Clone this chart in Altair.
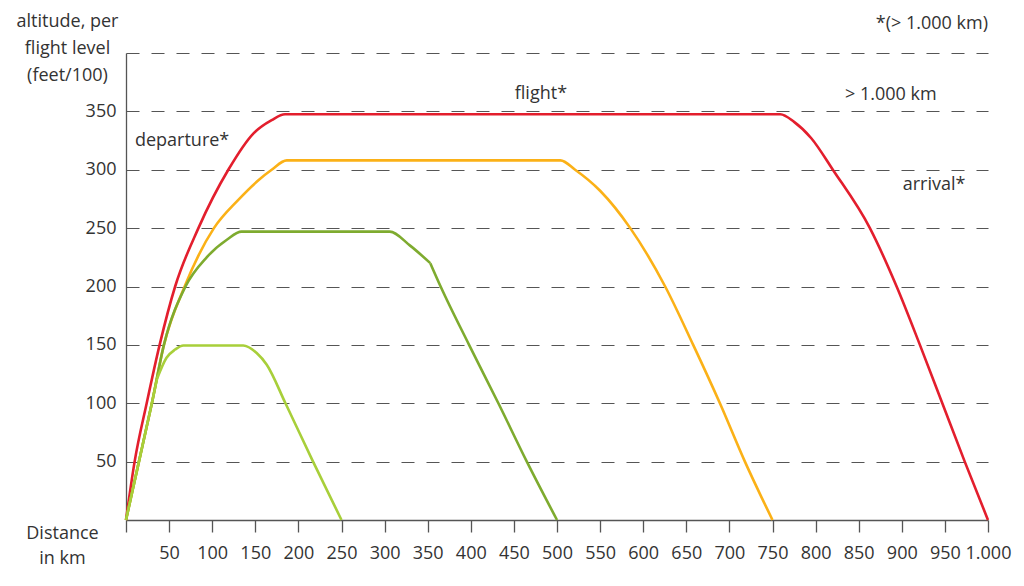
import altair as alt
import pandas as pd

# ---- data ----
red_x = [0, 10, 24, 39, 57, 84, 118.7, 147.7, 169, 184.5, 759, 775, 795, 820, 863, 894, 921, 947, 973, 1000]
red_y = [0, 50, 100, 150, 200, 250, 300, 331, 342.5, 347.5, 347.5, 341, 327, 300, 250, 200, 150, 100, 50, 0]
red_kinks = []

yel_x = [0, 15, 30, 44, 68, 102, 130, 153.6, 169, 186.5, 504, 521, 550, 585, 625.5, 658, 689, 718, 750]
yel_y = [0, 50, 100, 150, 200, 250, 274, 291, 300, 308, 308, 300, 282, 250, 200, 150, 100, 50, 0]
yel_kinks = []

dg_x = [0, 15, 30, 44, 69, 93.6, 117, 134, 306, 329.6, 353, 365, 398, 432, 465, 500]
dg_y = [0, 50, 100, 150, 200, 225, 240, 247, 247, 235, 220, 200, 150, 100, 50, 0]
dg_kinks = [353]

lg_x = [0, 15, 30, 36, 47, 57, 66.5, 136, 151.6, 163.3, 185, 217, 250]
lg_y = [0, 50, 100, 121, 139, 146, 149.5, 149.5, 143, 133, 100, 50, 0]
lg_kinks = [36]

series = [
    ("1000", red_x, red_y, red_kinks, "#e31e2d"),
    ("750", yel_x, yel_y, yel_kinks, "#fbb117"),
    ("500", dg_x, dg_y, dg_kinks, "#7eab2f"),
    ("250", lg_x, lg_y, lg_kinks, "#a8cf3a"),
]

x_ticks = list(range(0, 1001, 50))
y_ticks = list(range(50, 401, 50))

note_left_text = ["departure*", "flight*", "> 1.000 km", "arrival*"]
note_left_x = [10.4, 451, 834, 901]
note_left_y = [325, 365, 364, 287]

note_right_text = ["*(> 1.000 km)"]
note_right_x = [1000]
note_right_y = [425]

FONT = "Open Sans"
TXT = "#333333"
AX = "#555555"

x_enc = alt.X(
    "x:Q",
    scale=alt.Scale(domain=[0, 1000], nice=False, zero=True),
    axis=alt.Axis(
        values=x_ticks,
        labelExpr="datum.value == 0 ? '' : (datum.value == 1000 ? '1.000' : datum.label)",
        labelOverlap=False, labelFlush=False, labelBound=False,
        grid=False, tickSize=12, tickColor=AX, tickWidth=1.3,
        domainColor=AX, domainWidth=1.3,
        labelFont=FONT, labelFontSize=18, labelColor=TXT, labelPadding=12,
        title=["Distance", "in km"], titleFont=FONT, titleFontSize=18,
        titleFontWeight="normal", titleColor=TXT, titleAlign="center",
        titleBaseline="top", titleX=-64, titleY=4, titleLineHeight=25,
    ),
)

y_enc = alt.Y(
    "y:Q",
    scale=alt.Scale(domain=[0, 400], nice=False),
    axis=alt.Axis(
        values=y_ticks,
        labelExpr="datum.value == 400 ? '' : datum.label",
        labelOverlap=False, labelFlush=False,
        grid=True, gridDash=[13, 12], gridColor=AX, gridWidth=1.2,
        ticks=False, tickSize=0,
        domainColor=AX, domainWidth=1.3,
        labelFont=FONT, labelFontSize=18, labelColor=TXT, labelPadding=10,
        title=["altitude, per", "flight level", "(feet/100)"],
        titleFont=FONT, titleFontSize=18, titleFontWeight="normal",
        titleColor=TXT, titleAngle=0, titleAlign="center", titleBaseline="top",
        titleX=-59, titleY=-41, titleLineHeight=27,
    ),
)


def segments(xs, ys, kinks):
    """Split a series at its sharp corners (the corner point is shared)."""
    rows = []
    seg = 0
    for x, y in zip(xs, ys):
        rows.append({"x": x, "y": y, "seg": seg})
        if x in kinks:
            seg += 1
            rows.append({"x": x, "y": y, "seg": seg})
    return pd.DataFrame(rows)


layers = []
for name, xs, ys, kinks, col in series:
    df = segments(xs, ys, kinks)
    layers.append(
        alt.Chart(df).mark_line(color=col, strokeWidth=2.6, interpolate="monotone")
        .encode(x=x_enc, y=y_enc, detail="seg:N")
    )

left_df = pd.DataFrame({"x": note_left_x, "y": note_left_y, "t": note_left_text})
right_df = pd.DataFrame({"x": note_right_x, "y": note_right_y, "t": note_right_text})

layers.append(
    alt.Chart(left_df).mark_text(align="left", baseline="middle", font=FONT,
                                 fontSize=18, color=TXT)
    .encode(x="x:Q", y="y:Q", text="t:N")
)
layers.append(
    alt.Chart(right_df).mark_text(align="right", baseline="middle", font=FONT,
                                  fontSize=18, color=TXT, clip=False)
    .encode(x="x:Q", y="y:Q", text="t:N")
)

chart = (
    alt.layer(*layers)
    .properties(
        width=862, height=467,
        autosize=alt.AutoSizeParams(type="none"),
        padding={"left": 118, "top": 45, "right": 28, "bottom": 60},
        background="white",
    )
    .configure_view(stroke=None)
)

chart.save("out.html", embed_options={"renderer": "svg", "actions": False})
